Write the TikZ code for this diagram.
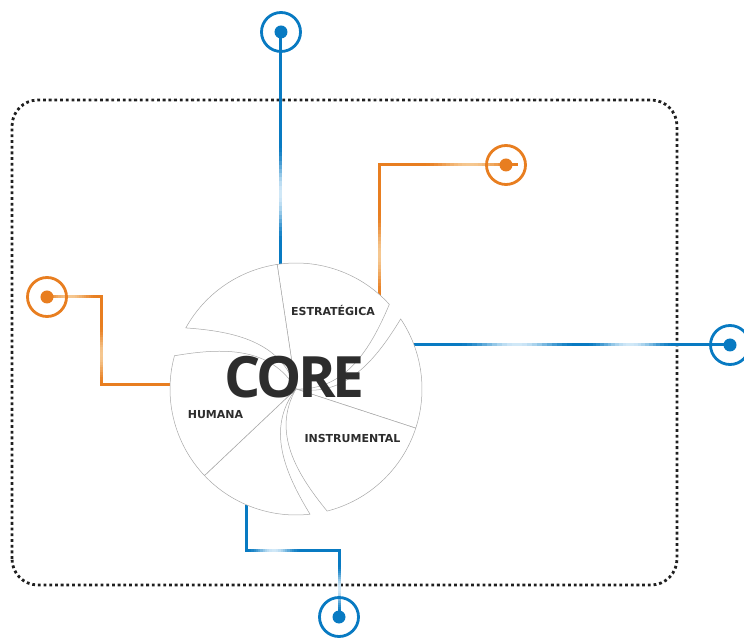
\documentclass[tikz,border=0pt]{standalone}
\usepackage{fontspec}
\setmainfont{DejaVu Sans}
\newfontfamily\corefont{Open Sans}
\usetikzlibrary{calc, backgrounds}

\definecolor{pinblue}{RGB}{8,122,194}
\definecolor{pinbluelight}{RGB}{210,233,248}
\definecolor{pinorange}{RGB}{232,126,32}
\definecolor{pinorangelight}{RGB}{245,200,145}
\definecolor{bladegray}{RGB}{168,168,168}
\definecolor{labeltext}{RGB}{45,45,45}

% light glints along the wires, built from short strokes
\newcommand{\hglint}[4]{%
  \foreach \k in {-12,...,11}{%
    \pgfmathtruncatemacro\mix{100*(0.5+0.5*cos(180*(\k+0.5)/12))}%
    \draw[line width=3pt, #4!\mix!#3] ($(#1)+(\k*#2/12,0)$) -- ++(#2/12+0.3,0);
  }}
\newcommand{\vglint}[4]{%
  \foreach \k in {-12,...,11}{%
    \pgfmathtruncatemacro\mix{100*(0.5+0.5*cos(180*(\k+0.5)/12))}%
    \draw[line width=3pt, #4!\mix!#3] ($(#1)+(0,\k*#2/12)$) -- ++(0,#2/12+0.3);
  }}

\begin{document}
\begin{tikzpicture}[
    x=1pt, y=1pt,
    frame/.style={draw=black!88, line width=2.8pt, dash pattern=on 2.8pt off 2.9pt, rounded corners=26pt},
    blade/.style={draw=bladegray, line width=0.5pt, fill=white},
    wire/.style={line width=3pt, line join=miter},
    pin/.style={circle, draw=#1, line width=2.8pt, minimum size=39pt, inner sep=0pt,
        path picture={\fill[#1] (path picture bounding box.center) circle[radius=6.5pt];}},
    tag/.style={font=\bfseries\fontsize{11}{11}\selectfont, text=labeltext, anchor=base, inner sep=0pt}
]
\useasboundingbox (-296,-250) rectangle (448,389);

% Core shutter
\node[circle, minimum size=252pt, inner sep=0pt, outer sep=0pt] (core) at (0,0) {};
\foreach \s/\t/\u/\e in {98.6/42.2/33.8/-18.1, -18.1/-75.7/-83.6/-136.6, -136.6/-195.3/-209/-261.4}{
    \filldraw[blade] (core.center) -- (\s:126) arc[start angle=\s, end angle=\t, radius=126]
        to[out=\t+205, in=\t-44] (core.center);
    \filldraw[blade] (core.center) to[out=\u-44, in=\u+205] (\u:126)
        arc[start angle=\u, end angle=\e, radius=126] -- cycle;
}

% Labels
\node[font=\corefont\bfseries\fontsize{57}{57}\selectfont\addfontfeatures{LetterSpace=-6}, text=labeltext, anchor=base, inner sep=0pt] (coreLabel) at (-1.5,-9) {CORE};
\node[tag] (strat) at (37,73) {ESTRATÉGICA};
\node[tag] (human) at (-80.5,-30) {HUMANA};
\node[tag] (instr) at (56.5,-54) {INSTRUMENTAL};

% Pins
\node[pin=pinblue] (pinN) at (-15,357) {};
\node[pin=pinorange] (pinNE) at (210,224) {};
\node[pin=pinblue] (pinE) at (434,44) {};
\node[pin=pinorange] (pinW) at (-249,92) {};
\node[pin=pinblue] (pinS) at (43,-228) {};

% Rim points
\coordinate (rimN) at (-15,125.1);
\coordinate (rimNE) at (83,94.8);
\coordinate (rimE) at (118.1,44);
\coordinate (rimW) at (-125.9,4);
\coordinate (rimS) at (-49,-116);

\begin{scope}[on background layer]
    % dotted frame
    \draw[frame] (-284,-196) rectangle (381,289);

    % wires
    \draw[wire, pinblue] (pinN.center) -- (rimN);
    \draw[wire, pinorange] (pinNE.center) -| (rimNE);
    \draw[wire, pinblue] (pinE.center) -- (rimE);
    \draw[wire, pinorange] (pinW.center) -- ++(55,0) |- (rimW);
    \draw[wire, pinblue] (rimS) -- ++(0,-46) -| (pinS.center);

    \vglint{-15,195}{50}{pinblue}{pinbluelight}
    \hglint{174,224}{48}{pinorange}{pinorangelight}
    \vglint{83,134}{42}{pinorange}{pinorangelight}
    \hglint{221,44}{60}{pinblue}{pinbluelight}
    \hglint{334,44}{45}{pinblue}{pinbluelight}
    \hglint{-226,92}{28}{pinorange}{pinorangelight}
    \vglint{-194,34}{30}{pinorange}{pinorangelight}
    \hglint{-22,-162}{27}{pinblue}{pinbluelight}
    \vglint{43,-200}{24}{pinblue}{pinbluelight}
\end{scope}

\end{tikzpicture}
\end{document}
